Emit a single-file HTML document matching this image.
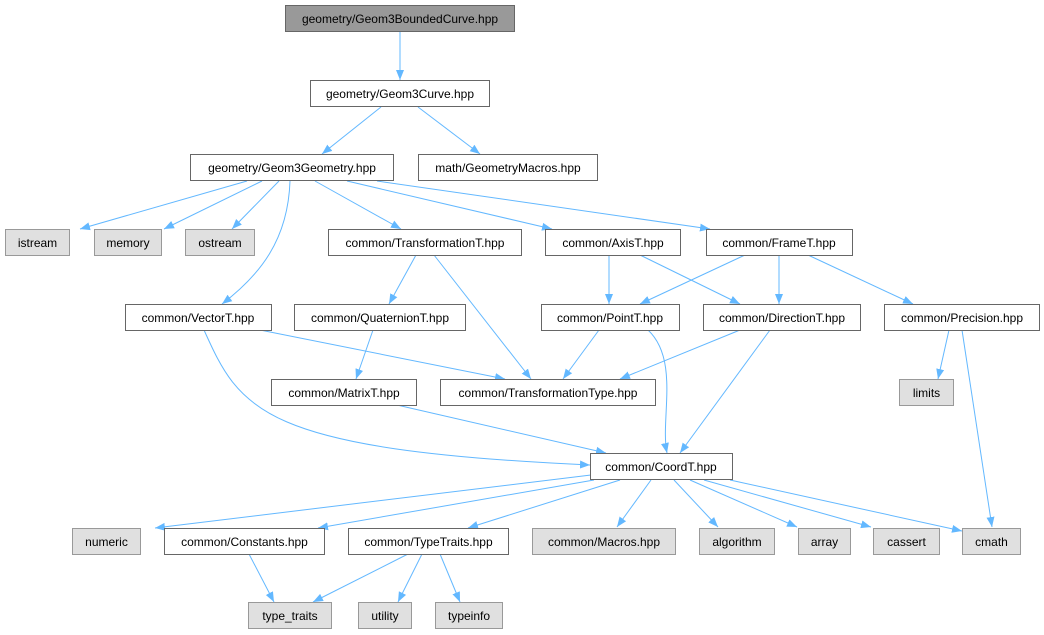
<!DOCTYPE html>
<html><head><meta charset="utf-8"><style>
html,body{margin:0;padding:0;background:#fff;}
svg{display:block;}
text{font-family:"Liberation Sans",Arial,sans-serif;font-size:12px;fill:#000;}
.n rect{fill:#fff;stroke:#666;stroke-width:1;}
.g rect{fill:#e0e0e0;stroke:#999;stroke-width:1;}
.e{fill:none;stroke:#63b8ff;stroke-width:1;}
</style></head><body>
<svg width="1044" height="635" viewBox="0 0 1044 635" xmlns="http://www.w3.org/2000/svg">
<defs><marker id="a" viewBox="0 0 10 10" refX="10" refY="5" markerWidth="10" markerHeight="10" markerUnits="userSpaceOnUse" orient="auto"><path d="M0,1 L10,5 L0,9 z" fill="#63b8ff"/></marker></defs>
<g marker-end="url(#a)">
<path class="e" d="M400,32 L400,80"/>
<path class="e" d="M381,107 L322,154"/>
<path class="e" d="M418,107 L480,154"/>
<path class="e" d="M247,181 L80,229"/>
<path class="e" d="M262,181 L164,229"/>
<path class="e" d="M279,181 L232,229"/>
<path class="e" d="M290,181 C288,240 260,275 222,304"/>
<path class="e" d="M315,181 L401,229"/>
<path class="e" d="M347,181 L552,229"/>
<path class="e" d="M377,181 L710,229"/>
<path class="e" d="M416,255 L389,304"/>
<path class="e" d="M434,255 L531,379"/>
<path class="e" d="M609,255 L609,304"/>
<path class="e" d="M640,255 L740,304"/>
<path class="e" d="M745,255 L640,304"/>
<path class="e" d="M779,255 L779,304"/>
<path class="e" d="M808,255 L913,304"/>
<path class="e" d="M260,330 L505,379"/>
<path class="e" d="M204,330 C240,410 260,450 590,465"/>
<path class="e" d="M373,330 L356,379"/>
<path class="e" d="M599,330 L563,379"/>
<path class="e" d="M648,330 C680,360 660,420 667,453"/>
<path class="e" d="M740,330 L620,379"/>
<path class="e" d="M770,330 L680,453"/>
<path class="e" d="M949,330 L938,379"/>
<path class="e" d="M962,330 L992,527"/>
<path class="e" d="M397,405 L606,453"/>
<path class="e" d="M591,475 L155,528"/>
<path class="e" d="M594,480 L318,528"/>
<path class="e" d="M620,480 L468,528"/>
<path class="e" d="M651,480 L617,527"/>
<path class="e" d="M674,480 L718,527"/>
<path class="e" d="M690,480 L797,527"/>
<path class="e" d="M704,480 L871,527"/>
<path class="e" d="M730,480 L962,531"/>
<path class="e" d="M249,554 L274,602"/>
<path class="e" d="M408,554 L313,602"/>
<path class="e" d="M422,554 L398,602"/>
<path class="e" d="M440,554 L460,602"/>
</g>
<g>
<g><rect x="285.5" y="5.5" width="229" height="26" fill="#999" stroke="#666"/><text x="400" y="23" text-anchor="middle">geometry/Geom3BoundedCurve.hpp</text></g>
<g class="n"><rect x="310.5" y="80.5" width="179" height="26"/><text x="400" y="98" text-anchor="middle">geometry/Geom3Curve.hpp</text></g>
<g class="n"><rect x="190.5" y="154.5" width="203" height="26"/><text x="292" y="172" text-anchor="middle">geometry/Geom3Geometry.hpp</text></g>
<g class="n"><rect x="418.5" y="154.5" width="179" height="26"/><text x="508" y="172" text-anchor="middle">math/GeometryMacros.hpp</text></g>
<g class="g"><rect x="5.5" y="229.5" width="64" height="26"/><text x="37.5" y="247" text-anchor="middle">istream</text></g>
<g class="g"><rect x="94.5" y="229.5" width="67" height="26"/><text x="128" y="247" text-anchor="middle">memory</text></g>
<g class="g"><rect x="185.5" y="229.5" width="69" height="26"/><text x="220" y="247" text-anchor="middle">ostream</text></g>
<g class="n"><rect x="328.5" y="229.5" width="193" height="26"/><text x="425" y="247" text-anchor="middle">common/TransformationT.hpp</text></g>
<g class="n"><rect x="545.5" y="229.5" width="135" height="26"/><text x="613" y="247" text-anchor="middle">common/AxisT.hpp</text></g>
<g class="n"><rect x="706.5" y="229.5" width="146" height="26"/><text x="779" y="247" text-anchor="middle">common/FrameT.hpp</text></g>
<g class="n"><rect x="125.5" y="304.5" width="146" height="26"/><text x="198" y="322" text-anchor="middle">common/VectorT.hpp</text></g>
<g class="n"><rect x="294.5" y="304.5" width="171" height="26"/><text x="380" y="322" text-anchor="middle">common/QuaternionT.hpp</text></g>
<g class="n"><rect x="541.5" y="304.5" width="138" height="26"/><text x="610" y="322" text-anchor="middle">common/PointT.hpp</text></g>
<g class="n"><rect x="703.5" y="304.5" width="157" height="26"/><text x="782" y="322" text-anchor="middle">common/DirectionT.hpp</text></g>
<g class="n"><rect x="884.5" y="304.5" width="155" height="26"/><text x="962" y="322" text-anchor="middle">common/Precision.hpp</text></g>
<g class="n"><rect x="271.5" y="379.5" width="145" height="26"/><text x="344" y="397" text-anchor="middle">common/MatrixT.hpp</text></g>
<g class="n"><rect x="440.5" y="379.5" width="215" height="26"/><text x="548" y="397" text-anchor="middle">common/TransformationType.hpp</text></g>
<g class="g"><rect x="899.5" y="379.5" width="54" height="26"/><text x="926.5" y="397" text-anchor="middle">limits</text></g>
<g class="n"><rect x="590.5" y="453.5" width="142" height="26"/><text x="661" y="471" text-anchor="middle">common/CoordT.hpp</text></g>
<g class="g"><rect x="72.5" y="528.5" width="68" height="26"/><text x="106.5" y="546" text-anchor="middle">numeric</text></g>
<g class="n"><rect x="164.5" y="528.5" width="160" height="26"/><text x="244.5" y="546" text-anchor="middle">common/Constants.hpp</text></g>
<g class="n"><rect x="348.5" y="528.5" width="160" height="26"/><text x="428.5" y="546" text-anchor="middle">common/TypeTraits.hpp</text></g>
<g class="g"><rect x="532.5" y="528.5" width="143" height="26"/><text x="604" y="546" text-anchor="middle">common/Macros.hpp</text></g>
<g class="g"><rect x="699.5" y="528.5" width="75" height="26"/><text x="737" y="546" text-anchor="middle">algorithm</text></g>
<g class="g"><rect x="798.5" y="528.5" width="52" height="26"/><text x="824.5" y="546" text-anchor="middle">array</text></g>
<g class="g"><rect x="873.5" y="528.5" width="66" height="26"/><text x="906.5" y="546" text-anchor="middle">cassert</text></g>
<g class="g"><rect x="962.5" y="528.5" width="58" height="26"/><text x="991.5" y="546" text-anchor="middle">cmath</text></g>
<g class="g"><rect x="248.5" y="602.5" width="83" height="26"/><text x="290" y="620" text-anchor="middle">type_traits</text></g>
<g class="g"><rect x="358.5" y="602.5" width="53" height="26"/><text x="385" y="620" text-anchor="middle">utility</text></g>
<g class="g"><rect x="435.5" y="602.5" width="67" height="26"/><text x="469" y="620" text-anchor="middle">typeinfo</text></g>
</g>
</svg>
</body></html>
